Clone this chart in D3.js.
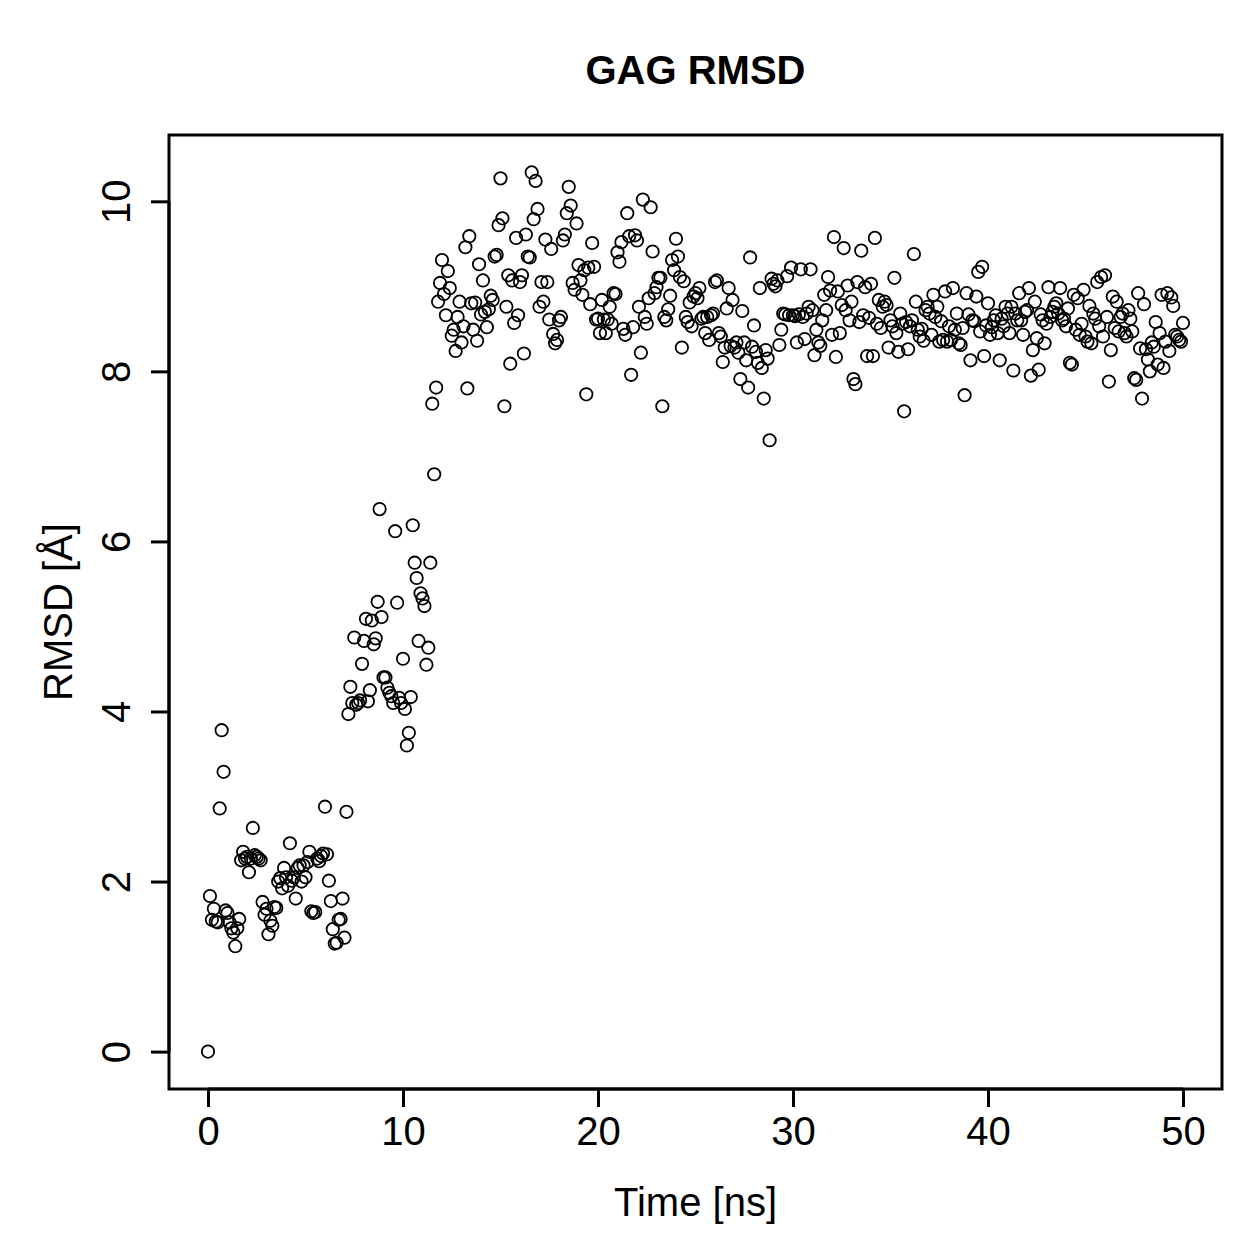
<!DOCTYPE html>
<html>
<head>
<meta charset="utf-8">
<script src="https://cdn.jsdelivr.net/npm/d3@7"></script>
<style>
  body { margin: 0; background: #fff; }
  text { font-family: "Liberation Sans", Arial, Helvetica, sans-serif; }
</style>
</head>
<body>
<div id="chart"></div>
<script>
// chart text
var title = "GAG RMSD";
var xLabel = "Time [ns]";
var yLabel = "RMSD [Å]";

// tick labels
var xTicks = [0, 10, 20, 30, 40, 50];
var yTicks = [0, 2, 4, 6, 8, 10];

// one frame every 0.1 ns
var frameStep = 0.1;

// RMSD values (Å), one row per ns
var rmsd = [
    0, 1.83, 1.55, 1.68, 1.53, 1.52, 2.86, 3.78, 3.29, 1.66,
    1.63, 1.52, 1.45, 1.40, 1.24, 1.45, 1.56, 2.25, 2.35, 2.27,
    2.29, 2.11, 2.27, 2.63, 2.31, 2.29, 2.27, 2.25, 1.76, 1.61,
    1.68, 1.38, 1.54, 1.48, 1.70, 1.69, 2.00, 2.04, 1.92, 2.16,
    2.05, 1.95, 2.45, 2.01, 2.05, 1.80, 2.16, 2.19, 2.00, 2.19,
    2.05, 2.23, 2.35, 1.65, 1.63, 1.64, 2.27, 2.24, 2.30, 2.33,
    2.88, 2.32, 2.01, 1.77, 1.44, 1.27, 1.28, 1.55, 1.56, 1.80,
    1.34, 2.82, 3.97, 4.29, 4.10, 4.87, 4.08, 4.10, 4.13, 4.56,
    4.83, 5.09, 4.12, 4.25, 5.07, 4.79, 4.86, 5.29, 6.38, 5.11,
    4.40, 4.40, 4.28, 4.22, 4.18, 4.10, 6.12, 5.28, 4.16, 4.10,
    4.62, 4.03, 3.60, 3.75, 4.17, 6.19, 5.75, 5.57, 4.83, 5.39,
    5.33, 5.24, 4.55, 4.75, 5.75, 7.62, 6.79, 7.81, 8.82, 9.04,
    9.31, 8.91, 8.66, 9.18, 8.98, 8.42, 8.49, 8.24, 8.64, 8.82,
    8.34, 8.53, 9.46, 7.80, 9.59, 8.80, 8.49, 8.81, 8.36, 9.26,
    8.67, 9.07, 8.70, 8.52, 8.73, 8.89, 8.84, 9.35, 9.37, 9.72,
    10.27, 9.80, 7.59, 8.76, 9.13, 8.09, 9.07, 8.57, 9.57, 8.66,
    9.05, 9.13, 8.21, 9.61, 9.35, 9.34, 10.34, 9.79, 10.24, 9.91,
    8.76, 9.05, 8.82, 9.55, 9.05, 8.61, 9.44, 8.44, 8.33, 8.37,
    8.60, 8.64, 9.54, 9.61, 9.86, 10.17, 9.95, 9.04, 8.96, 9.74,
    9.25, 9.07, 8.90, 9.19, 7.73, 9.22, 8.79, 9.51, 9.23, 8.61,
    8.62, 8.45, 8.84, 8.61, 8.45, 8.61, 8.76, 8.56, 8.92, 8.91,
    9.40, 9.29, 9.52, 8.50, 8.43, 9.86, 9.59, 7.96, 8.52, 9.60,
    9.54, 8.76, 8.22, 10.02, 8.64, 8.56, 8.86, 9.93, 9.41, 8.92,
    8.99, 9.10, 9.10, 7.59, 8.64, 8.60, 8.73, 8.89, 9.31, 9.19,
    9.56, 9.35, 9.11, 8.28, 9.06, 8.64, 8.58, 8.81, 8.53, 8.88,
    8.92, 8.86, 8.98, 8.62, 8.64, 8.45, 8.64, 8.37, 8.66, 8.68,
    9.05, 9.07, 8.45, 8.41, 8.11, 8.28, 8.74, 8.98, 8.30, 8.84,
    8.28, 8.34, 8.22, 7.91, 8.71, 8.34, 8.13, 7.81, 9.34, 8.29,
    8.54, 8.23, 8.10, 8.98, 8.04, 7.68, 8.25, 8.15, 7.19, 9.09,
    9.03, 9.00, 9.07, 8.31, 8.49, 8.68, 8.67, 9.12, 8.66, 9.22,
    8.66, 8.65, 8.34, 8.67, 9.20, 8.64, 8.38, 8.68, 8.76, 9.20,
    8.72, 8.19, 8.49, 8.34, 8.30, 8.60, 8.90, 8.72, 9.11, 8.95,
    8.43, 9.58, 8.17, 8.94, 8.45, 8.78, 9.45, 8.72, 9.01, 8.60,
    8.82, 7.91, 7.85, 9.05, 8.58, 9.42, 8.66, 8.99, 8.18, 8.63,
    9.03, 8.18, 9.57, 8.56, 8.84, 8.51, 8.76, 8.82, 8.78, 8.28,
    8.60, 8.53, 9.10, 8.45, 8.23, 8.68, 8.56, 7.53, 8.58, 8.26,
    8.53, 8.60, 9.38, 8.82, 8.49, 8.41, 8.50, 8.36, 8.72, 8.76,
    8.68, 8.43, 8.90, 8.64, 8.76, 8.35, 8.59, 8.37, 8.94, 8.35,
    8.53, 8.37, 8.98, 8.49, 8.68, 8.33, 8.31, 8.51, 7.72, 8.92,
    8.67, 8.13, 8.60, 8.59, 8.88, 9.17, 8.47, 9.23, 8.18, 8.54,
    8.80, 8.43, 8.52, 8.60, 8.66, 8.45, 8.13, 8.62, 8.53, 8.76,
    8.68, 8.45, 8.76, 8.01, 8.68, 8.60, 8.92, 8.60, 8.43, 8.70,
    8.72, 8.98, 7.95, 8.25, 8.82, 8.39, 8.02, 8.67, 8.60, 8.33,
    8.56, 8.99, 8.64, 8.70, 8.76, 8.80, 8.68, 8.98, 8.60, 8.62,
    8.53, 8.74, 8.10, 8.08, 8.90, 8.49, 8.86, 8.43, 8.56, 8.96,
    8.41, 8.35, 8.77, 8.33, 8.68, 8.62, 9.05, 8.53, 9.11, 8.41,
    9.13, 8.64, 7.88, 8.25, 8.88, 8.51, 8.82, 8.47, 8.64, 8.68,
    8.45, 8.41, 8.72, 8.62, 8.47, 7.92, 7.90, 8.92, 8.27, 7.68,
    8.79, 8.26, 8.14, 8.00, 8.34, 8.29, 8.58, 8.08, 8.45, 8.90,
    8.04, 8.35, 8.92, 8.24, 8.87, 8.77, 8.43, 8.41, 8.37, 8.35,
    8.57
];

var data = rmsd.map(function(v, i) {
    return { time: i * frameStep, rmsd: v };
});

var w = 1259,
    h = 1259;
// plot box in page pixels
var box = { left: 169, right: 1222, top: 135, bottom: 1089 };

var svg = d3.select('#chart').append('svg')
    .attr('width', w)
    .attr('height', h);

// R-style ranges: data extent padded by 4% on each side
var x = d3.scaleLinear()
    .domain([-2, 52])
    .range([box.left, box.right]);

var y = d3.scaleLinear()
    .domain([-0.44, 10.78])
    .range([box.bottom, box.top]);

// x axis (ticks hang below the box)
var xAxis = svg.append('g')
    .attr('transform', 'translate(0,' + box.bottom + ')')
    .call(d3.axisBottom(x).tickValues(xTicks).tickSize(18).tickPadding(10).tickFormat(d3.format('d')));
xAxis.select('.domain').attr('d', 'M' + x(xTicks[0]) + ',0H' + x(xTicks[xTicks.length - 1]));

// y axis, labels turned like R's default las=0
var yAxis = svg.append('g')
    .attr('transform', 'translate(' + box.left + ',0)')
    .call(d3.axisLeft(y).tickValues(yTicks).tickSize(18).tickFormat(d3.format('d')));
yAxis.select('.domain').attr('d', 'M0,' + y(yTicks[0]) + 'V' + y(yTicks[yTicks.length - 1]));
yAxis.selectAll('.tick text')
    .attr('x', 0)
    .attr('dy', 0)
    .attr('transform', 'translate(-39,0) rotate(-90)')
    .attr('text-anchor', 'middle');

svg.selectAll('.domain, .tick line')
    .attr('stroke', '#000')
    .attr('stroke-width', 3);
svg.selectAll('.tick text')
    .attr('font-size', '40px')
    .attr('fill', '#000')
    .attr('font-family', '"Liberation Sans", Arial, Helvetica, sans-serif');
xAxis.selectAll('.tick text').attr('dy', '0.71em');

// frame around the plotting region
svg.append('rect')
    .attr('x', box.left)
    .attr('y', box.top)
    .attr('width', box.right - box.left)
    .attr('height', box.bottom - box.top)
    .attr('fill', 'none')
    .attr('stroke', '#000')
    .attr('stroke-width', 3);

// open circles, R pch = 1
svg.append('g').selectAll('circle')
    .data(data)
    .enter().append('circle')
    .attr('cx', (d) => x(d.time))
    .attr('cy', (d) => y(d.rmsd))
    .attr('r', 6.2)
    .attr('fill', 'none')
    .attr('stroke', '#000')
    .attr('stroke-width', 1.8);

// titles
svg.append('text')
    .attr('x', (box.left + box.right) / 2)
    .attr('y', 84)
    .attr('text-anchor', 'middle')
    .attr('font-size', '40px')
    .attr('font-weight', 'bold')
    .text(title);

svg.append('text')
    .attr('x', (box.left + box.right) / 2)
    .attr('y', 1216)
    .attr('text-anchor', 'middle')
    .attr('font-size', '40px')
    .text(xLabel);

svg.append('text')
    .attr('transform', 'translate(72,' + (box.top + box.bottom) / 2 + ') rotate(-90)')
    .attr('text-anchor', 'middle')
    .attr('font-size', '40px')
    .text(yLabel);
</script>
</body>
</html>
